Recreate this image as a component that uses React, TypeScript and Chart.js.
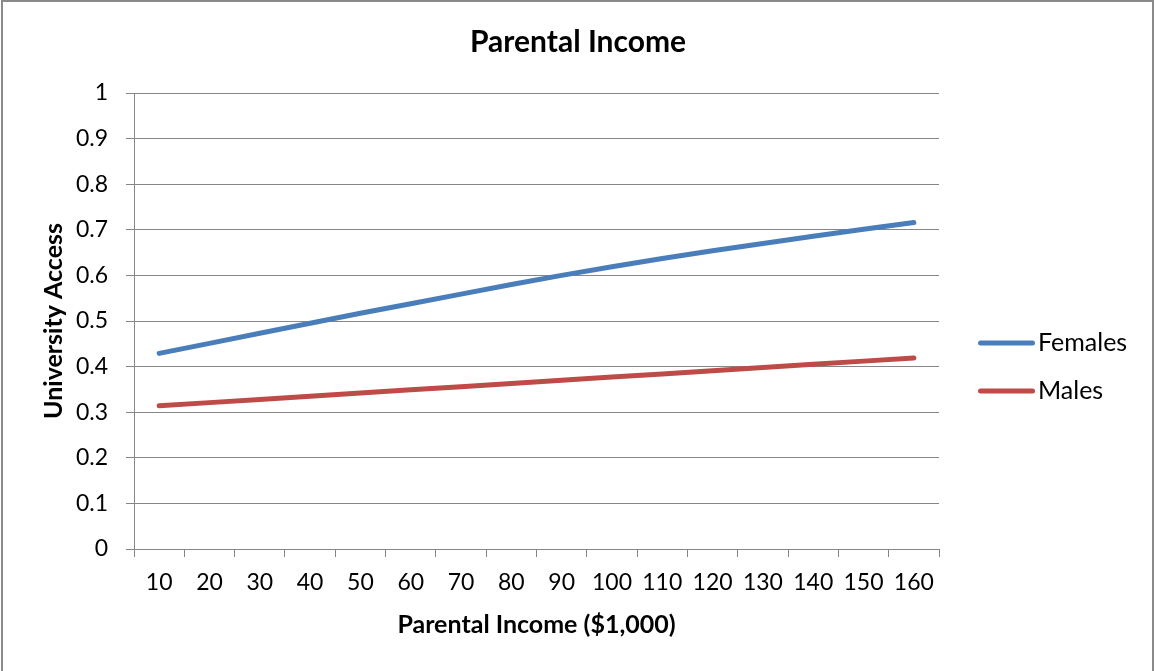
import React, { useEffect, useRef } from "react";
import { Chart, registerables } from "chart.js";

Chart.register(...registerables);

const incomeLabels = ["10", "20", "30", "40", "50", "60", "70", "80", "90", "100", "110", "120", "130", "140", "150", "160"];
const femalesValues = [0.429, 0.451, 0.473, 0.495, 0.517, 0.538, 0.559, 0.58, 0.6, 0.619, 0.637, 0.654, 0.67, 0.686, 0.701, 0.716];
const malesValues = [0.314, 0.321, 0.328, 0.335, 0.342, 0.349, 0.356, 0.363, 0.37, 0.377, 0.384, 0.391, 0.398, 0.405, 0.412, 0.419];
const seriesNames = ["Females", "Males"];
const seriesColors = ["#4A7EBB", "#BE4B48"];
const chartTitle = "Parental Income";
const xAxisTitle = "Parental Income ($1,000)";
const yAxisTitle = "University Access";

const FONT = "Lato, 'Open Sans', sans-serif";
const GRID = "#868686";

const decorPlugin = {
  id: "decor",
  afterDraw(chart: any) {
    const ctx = chart.ctx as CanvasRenderingContext2D;
    ctx.save();
    ctx.strokeStyle = "#8a8a8a";
    ctx.lineWidth = 2;
    ctx.strokeRect(2, 1, 1151, 672);
    ctx.fillStyle = "#000";
    ctx.font = `bold 30px ${FONT}`;
    ctx.textAlign = "center";
    ctx.textBaseline = "middle";
    ctx.fillText(chartTitle, 578, 42);
    const ys = [343, 391];
    chart.data.datasets.forEach((ds: any, i: number) => {
      const y = ys[i];
      ctx.strokeStyle = ds.borderColor;
      ctx.lineWidth = 5;
      ctx.lineCap = "round";
      ctx.beginPath();
      ctx.moveTo(980.5, y);
      ctx.lineTo(1032.5, y);
      ctx.stroke();
      ctx.fillStyle = "#000";
      ctx.font = `25px ${FONT}`;
      ctx.textAlign = "left";
      ctx.textBaseline = "middle";
      ctx.fillText(ds.label, 1038, y);
    });
    ctx.restore();
  },
};

export default function App() {
  const canvasRef = useRef<HTMLCanvasElement | null>(null);

  useEffect(() => {
    document.body.style.margin = "0";
    const canvas = canvasRef.current;
    if (!canvas) return;
    const chart = new Chart(canvas, {
      type: "line",
      data: {
        labels: incomeLabels,
        datasets: [
          {
            label: seriesNames[0],
            data: femalesValues,
            borderColor: seriesColors[0],
            backgroundColor: seriesColors[0],
            borderWidth: 5,
            pointRadius: 0,
            tension: 0,
            borderCapStyle: "round",
            borderJoinStyle: "round",
          },
          {
            label: seriesNames[1],
            data: malesValues,
            borderColor: seriesColors[1],
            backgroundColor: seriesColors[1],
            borderWidth: 5,
            pointRadius: 0,
            tension: 0,
            borderCapStyle: "round",
            borderJoinStyle: "round",
          },
        ],
      },
      options: {
        responsive: false,
        animation: false,
        layout: { padding: { top: 93, right: 215, left: 0, bottom: 0 } },
        plugins: {
          legend: { display: false },
          title: { display: false },
          tooltip: { enabled: false },
        },
        scales: {
          x: {
            type: "category",
            offset: true,
            afterFit: (scale: any) => {
              scale.height = 122;
            },
            grid: {
              offset: true,
              drawOnChartArea: false,
              drawTicks: true,
              tickLength: 8,
              color: GRID,
              lineWidth: 1,
            },
            border: { color: GRID, width: 1 },
            ticks: {
              color: "#000",
              font: { family: FONT, size: 23 },
              padding: 12,
              maxRotation: 0,
              autoSkip: false,
            },
            title: {
              display: true,
              text: xAxisTitle,
              color: "#000",
              font: { family: FONT, size: 25, weight: "bold" },
              padding: { top: 0, bottom: 31 },
            },
          },
          y: {
            min: 0,
            max: 1,
            afterFit: (scale: any) => {
              scale.width = 134;
            },
            grid: {
              color: GRID,
              lineWidth: 1,
              tickLength: 8,
              drawTicks: true,
            },
            border: { color: GRID, width: 1 },
            ticks: {
              stepSize: 0.1,
              color: "#000",
              font: { family: FONT, size: 23 },
              padding: 18,
              callback: (v: any) => String(Number(Number(v).toFixed(1))),
            },
            title: {
              display: true,
              text: yAxisTitle,
              color: "#000",
              font: { family: FONT, size: 25, weight: "bold" },
              padding: { top: 39, bottom: 0 },
            },
          },
        },
      },
      plugins: [decorPlugin],
    });
    return () => chart.destroy();
  }, []);

  return (
    <div style={{ width: 1154, height: 671, position: "relative", background: "#fff" }}>
      <canvas ref={canvasRef} width={1154} height={671} style={{ width: 1154, height: 671, display: "block" }} />
    </div>
  );
}
